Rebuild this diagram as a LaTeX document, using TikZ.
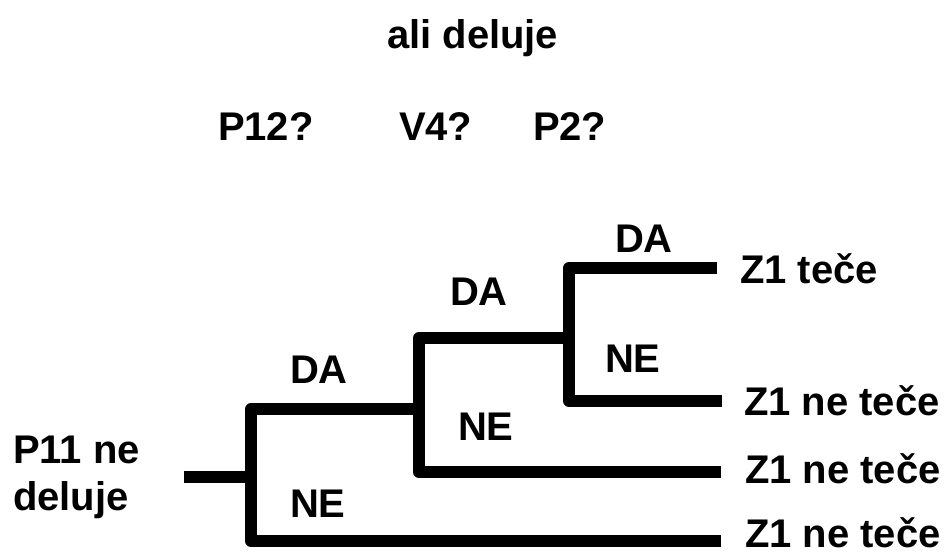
\documentclass[tikz,border=0pt]{standalone}
\usepackage{fontspec}
\setmainfont{Liberation Sans}
\tikzset{
  lbl/.style={anchor=base west, inner sep=0pt, outer sep=0pt, font=\fontsize{30}{36}\selectfont\bfseries},
  branch/.style={line width=9pt, line join=round, line cap=butt, black}
}
\begin{document}
\begin{tikzpicture}[x=0.75pt, y=-0.75pt]
\useasboundingbox (0,0) rectangle (948,554);
% header texts
\node[lbl] (title) at (387,48) {ali deluje};
\node[lbl] (q1) at (218,140) {P12?};
\node[lbl] (q2) at (399,140) {V4?};
\node[lbl] (q3) at (533,140) {P2?};
% root
\node[lbl] (root) at (13,463) {P11 ne};
\node[lbl] (root2) at (13,510) {deluje};
% results
\node[lbl] (r1) at (740,283) {Z1 teče};
\node[lbl] (r2) at (744,415) {Z1 ne teče};
\node[lbl] (r3) at (745,483) {Z1 ne teče};
\node[lbl] (r4) at (745,547) {Z1 ne teče};
% branch labels
\node[lbl] (da1) at (290,383) {DA};
\node[lbl] (ne1) at (290,517) {NE};
\node[lbl] (da2) at (450,305) {DA};
\node[lbl] (ne2) at (458,440) {NE};
\node[lbl] (da3) at (615,252) {DA};
\node[lbl] (ne3) at (605,372) {NE};
% junction coordinates
\coordinate (s0) at (184,477);
\coordinate (j1) at (251,477);
\coordinate (j1t) at (251,409);
\coordinate (j1b) at (251,541);
\coordinate (j2) at (419,409);
\coordinate (j2t) at (419,338);
\coordinate (j2b) at (419,472);
\coordinate (j3) at (569,338);
\coordinate (j3t) at (569,268);
\coordinate (j3b) at (569,401);
\coordinate (e1) at (717,268);
\coordinate (e2) at (722,401);
\coordinate (e3) at (721,472);
\coordinate (e4) at (721,541);
% tree
\draw[branch] (s0) -- (j1);
\draw[branch] (j2) -- (j1t) -- (j1b) -- (e4);
\draw[branch] (j3) -- (j2t) -- (j2b) -- (e3);
\draw[branch] (e1) -- (j3t) -- (j3b) -- (e2);
\end{tikzpicture}
\end{document}
